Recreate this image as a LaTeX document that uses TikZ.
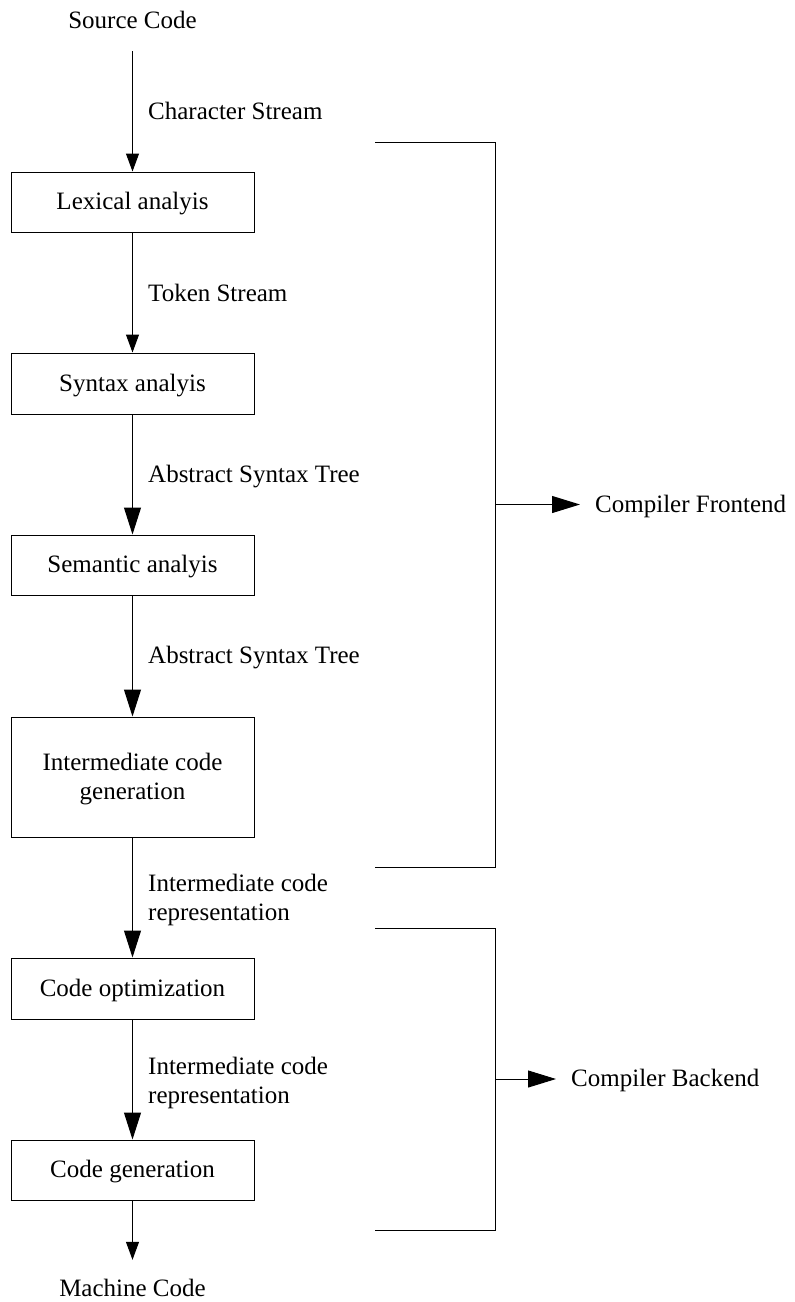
\documentclass[tikz,border=0pt]{standalone}
\usepackage{fontspec}
\setmainfont{Liberation Serif}
\usetikzlibrary{arrows.meta}
\begin{document}
\begin{tikzpicture}[x=1pt,y=-1pt,
  every node/.style={font=\fontsize{25}{28.5}\selectfont, text height=15.5pt, text depth=0pt},
  twolines/.style={text height=44pt, text depth=0pt},
  stagebox/.style={draw, line width=1pt, minimum width=243pt, align=center, inner sep=0pt},
  plain/.style={inner sep=0pt, align=center},
  edgelabel/.style={anchor=west, inner sep=0pt, align=left},
  conn/.style={line width=1pt},
  smallarr/.style={conn, -{Triangle[length=18pt,width=13pt]}},
  bigarr/.style={conn, -{Triangle[length=27pt,width=17pt]}}
]
\useasboundingbox (0,0) rectangle (795,1302);
% nodes
\node[plain, minimum height=60pt] (src) at (132.5,21) {Source Code};
\node[stagebox, minimum height=60pt] (lex) at (132.5,202) {Lexical analyis};
\node[stagebox, minimum height=61pt] (syn) at (132.5,383.5) {Syntax analyis};
\node[stagebox, minimum height=60pt] (sem) at (132.5,565) {Semantic analyis};
\node[stagebox, twolines, minimum height=120pt] (inter) at (132.5,777) {Intermediate code\\generation};
\node[stagebox, minimum height=61pt] (opt) at (132.5,988.5) {Code optimization};
\node[stagebox, minimum height=60pt] (gen) at (132.5,1170) {Code generation};
\node[plain, minimum height=58pt] (mach) at (132.5,1289) {Machine Code};
% edge labels
\node[edgelabel] (l1) at (148,112) {Character Stream};
\node[edgelabel] (l2) at (148,294) {Token Stream};
\node[edgelabel] (l3) at (148,475) {Abstract Syntax Tree};
\node[edgelabel] (l4) at (148,656) {Abstract Syntax Tree};
\node[edgelabel, twolines] (l5) at (148,898) {Intermediate code\\representation};
\node[edgelabel, twolines] (l6) at (148,1081) {Intermediate code\\representation};
% connectors
\draw[smallarr] (src) -- (lex);
\draw[smallarr] (lex) -- (syn);
\draw[bigarr] (syn) -- (sem);
\draw[bigarr] (sem) -- (inter);
\draw[bigarr] (inter) -- (opt);
\draw[bigarr] (opt) -- (gen);
\draw[smallarr] (gen) -- (mach);
% frontend bracket
\coordinate (f1) at (375,142);
\coordinate (f2) at (495,142);
\coordinate (f3) at (495,867);
\coordinate (f4) at (375,867);
\coordinate (fm) at (495,504.5);
\node[anchor=west, inner ysep=0pt, inner xsep=15pt] (front) at (580,504.5) {Compiler Frontend};
\draw[conn] (f1) -- (f2) -- (f3) -- (f4);
\draw[conn, -{Triangle[length=28pt,width=17pt]}] (fm) -- (front.west);
% backend bracket
\coordinate (b1) at (375,928);
\coordinate (b2) at (495,928);
\coordinate (b3) at (495,1230);
\coordinate (b4) at (375,1230);
\coordinate (bm) at (495,1079);
\node[anchor=west, inner ysep=0pt, inner xsep=15pt] (back) at (556,1079) {Compiler Backend};
\draw[conn] (b1) -- (b2) -- (b3) -- (b4);
\draw[conn, -{Triangle[length=28pt,width=17pt]}] (bm) -- (back.west);
\end{tikzpicture}
\end{document}
